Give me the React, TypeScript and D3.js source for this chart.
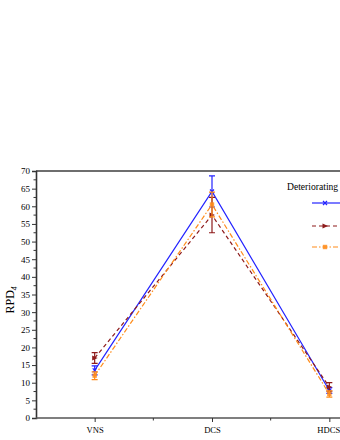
import React, { useEffect, useRef } from 'react';
import * as d3 from 'd3';

const categories = ['VNS', 'DCS', 'HDCS'];
const seriesNames = ['s1', 's2', 's3'];
const blueValues = [13.5, 64.2, 7.8];
const blueErrors = [1.3, 4.4, 0.8];
const redValues = [17, 57.5, 8.8];
const redErrors = [1.5, 5, 1.2];
const orangeValues = [12, 60.5, 6.8];
const orangeErrors = [1.1, 3.5, 0.9];
const yTicks = [0, 5, 10, 15, 20, 25, 30, 35, 40, 45, 50, 55, 60, 65, 70];
const legendTitle = 'Deteriorating';

const App = () => {
  const ref = useRef<SVGSVGElement>(null);

  useEffect(() => {
    const svg = d3.select(ref.current);
    svg.selectAll('*').remove();
    const font = 'Liberation Serif, Times New Roman, DejaVu Serif, serif';
    const left = 36;
    const top = 171;
    const bottom = 418;

    const x = d3.scalePoint().domain(categories).range([left, 388]).padding(0.5);
    const y = d3.scaleLinear().domain([0, 70]).range([bottom, top]);

    // frame: top line
    svg.append('line')
      .attr('x1', left).attr('x2', 345).attr('y1', top).attr('y2', top)
      .attr('stroke', '#6e6e6e').attr('stroke-width', 2);

    // y axis
    const yAxis = svg.append('g').attr('transform', `translate(${left},0)`)
      .attr('font-family', font)
      .call(d3.axisLeft(y).tickValues(yTicks).tickSize(4).tickPadding(2));
    yAxis.attr('font-family', font);
    yAxis.select('.domain').attr('stroke', '#333').attr('stroke-width', 1.6);
    yAxis.selectAll('text').attr('font-size', 9).attr('fill', '#000');
    yAxis.selectAll('line').attr('stroke', '#333');
    const minorY = d3.range(2.5, 70, 5);
    svg.append('g').selectAll('line').data(minorY).join('line')
      .attr('x1', left - 2.5).attr('x2', left).attr('y1', d => y(d)).attr('y2', d => y(d))
      .attr('stroke', '#333');

    // x axis
    const xAxis = svg.append('g').attr('transform', `translate(0,${bottom})`)
      .call(d3.axisBottom(x).tickSize(4).tickPadding(5).tickSizeOuter(0));
    xAxis.attr('font-family', font);
    xAxis.select('.domain').attr('stroke', '#555').attr('stroke-width', 1.6)
      .attr('d', `M${left},0H345`);
    xAxis.selectAll('text').attr('font-size', 8.6).attr('fill', '#000');
    xAxis.selectAll('text').filter(d => d === 'HDCS').attr('dx', -1);
    xAxis.selectAll('line').attr('stroke', '#333');
    const step = x.step();
    const minorX = categories.slice(0, -1).map(c => (x(c) as number) + step / 2);
    svg.append('g').selectAll('line').data(minorX).join('line')
      .attr('x1', d => d).attr('x2', d => d).attr('y1', bottom).attr('y2', bottom + 2.5)
      .attr('stroke', '#333');

    // y label
    const yl = svg.append('text')
      .attr('transform', 'translate(14,300) rotate(-90)')
      .attr('text-anchor', 'middle').attr('font-family', font).attr('font-size', 12);
    yl.append('tspan').text('RPD');
    yl.append('tspan').attr('font-size', 7.5).attr('font-style', 'italic').attr('dy', 3).text('4');

    const series = [
      { name: seriesNames[0], values: blueValues, errors: blueErrors, color: '#2323ff', dash: null, marker: 'x' },
      { name: seriesNames[1], values: redValues, errors: redErrors, color: '#8e1b1b', dash: '4,3', marker: 'tri' },
      { name: seriesNames[2], values: orangeValues, errors: orangeErrors, color: '#ff8c1a', dash: '5,2,1.5,2', marker: 'sq' },
    ];

    const line = d3.line<number>().x((_, i) => x(categories[i]) as number).y(d => y(d));

    const drawMarker = (g: any, cx: number, cy: number, s: any) => {
      if (s.marker === 'x') {
        g.append('path').attr('d', `M${cx - 2},${cy - 2}L${cx + 2},${cy + 2}M${cx - 2},${cy + 2}L${cx + 2},${cy - 2}`)
          .attr('stroke', s.color).attr('stroke-width', 1.2).attr('fill', 'none');
      } else if (s.marker === 'tri') {
        g.append('path').attr('d', `M${cx - 2.5},${cy - 2.5}L${cx + 3},${cy}L${cx - 2.5},${cy + 2.5}Z`)
          .attr('fill', s.color);
      } else {
        g.append('rect').attr('x', cx - 2.2).attr('y', cy - 2.2).attr('width', 4.4).attr('height', 4.4)
          .attr('fill', s.color).attr('opacity', 0.85);
      }
    };

    series.forEach(s => {
      svg.append('path').attr('d', line(s.values))
        .attr('fill', 'none').attr('stroke', s.color).attr('stroke-width', 1.2)
        .attr('stroke-dasharray', s.dash);
      const g = svg.append('g');
      s.values.forEach((v, i) => {
        const cx = x(categories[i]) as number;
        const hi = y(v + s.errors[i]);
        const lo = y(v - s.errors[i]);
        g.append('path')
          .attr('d', `M${cx},${hi}V${lo}M${cx - 3},${hi}H${cx + 3}M${cx - 3},${lo}H${cx + 3}`)
          .attr('stroke', s.color).attr('stroke-width', 1.2).attr('fill', 'none');
        drawMarker(g, cx, y(v), s);
      });
    });

    // legend
    svg.append('text').attr('x', 287).attr('y', 190)
      .attr('font-family', font).attr('font-size', 9.6).text(legendTitle);
    series.forEach((s, i) => {
      const ly = [203, 226, 247][i];
      svg.append('line').attr('x1', 312).attr('x2', 340).attr('y1', ly).attr('y2', ly)
        .attr('stroke', s.color).attr('stroke-width', 1.2).attr('stroke-dasharray', s.dash);
      drawMarker(svg, 325, ly, s);
    });
  }, []);

  return (
    <svg ref={ref} width={340} height={440}
      style={{ position: 'absolute', left: 0, top: 0, background: '#fff' }} />
  );
};

export default App;
